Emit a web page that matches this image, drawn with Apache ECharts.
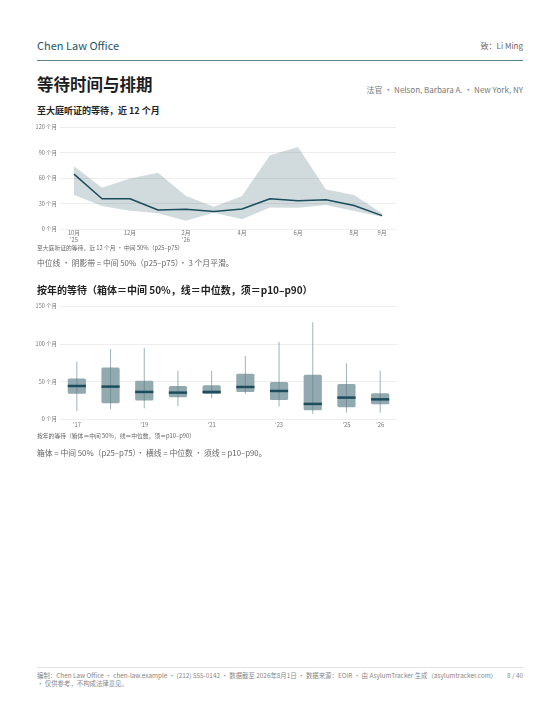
<!DOCTYPE html>
<html>
<head>
<meta charset="utf-8">
<script src="https://cdn.jsdelivr.net/npm/echarts@6/dist/echarts.min.js"></script>
<style>
  html, body { margin: 0; padding: 0; background: #fff; }
  body { width: 560px; height: 725px; position: relative; overflow: hidden;
    font-family: "Noto Sans CJK SC", "Noto Sans", sans-serif; color: #222; }
  .abs { position: absolute; white-space: nowrap; line-height: 1; }
  .chart { position: absolute; left: 0; width: 560px; }
</style>
</head>
<body>
<div class="abs" style="left:37px; top:40px; font-size:11px; color:#1f5566;">Chen Law Office</div>
<div class="abs" style="right:37px; top:41.5px; font-size:8px; color:#666;">致：Li Ming</div>
<div style="position:absolute; left:37px; width:486px; top:60px; height:1px; background:#5d8290;"></div>

<div class="abs" style="left:37px; top:75.8px; font-size:16.5px; font-weight:bold; color:#1e1e1e;">等待时间与排期</div>
<div class="abs" style="right:37px; top:85.5px; font-size:8px; color:#777;">法官 · Nelson, Barbara A. · New York, NY</div>
<div class="abs" style="left:37px; top:105.5px; font-size:9px; font-weight:bold;">至大庭听证的等待，近 12 个月</div>

<div id="trend" class="chart" style="top:115px; height:135px;"></div>
<div class="abs" style="left:37px; top:244.5px; font-size:5.8px; color:#666;">至大庭听证的等待，近 12 个月 · 中间 50%（p25–p75）</div>
<div class="abs" style="left:37px; top:258.5px; font-size:7.8px; color:#666;">中位线 · 阴影带 = 中间 50%（p25–p75）· 3 个月平滑。</div>

<div class="abs" style="left:37px; top:285px; font-size:10px; font-weight:bold;">按年的等待（箱体＝中间 50%，线＝中位数，须＝p10–p90）</div>
<div id="yearly" class="chart" style="top:295px; height:140px;"></div>
<div class="abs" style="left:37px; top:433px; font-size:5.8px; color:#666;">按年的等待（箱体＝中间 50%，线＝中位数，须＝p10–p90）</div>
<div class="abs" style="left:37px; top:449px; font-size:7.8px; color:#666;">箱体 = 中间 50%（p25–p75）· 横线 = 中位数 · 须线 = p10–p90。</div>

<div style="position:absolute; left:37px; width:486px; top:667px; height:1px; background:#e4e4e4;"></div>
<div class="abs" style="left:37px; top:671.5px; font-size:6.4px; color:#888; line-height:8.6px;">编制：Chen Law Office · chen-law.example · (212) 555-0142 · 数据截至 2026年8月1日 · 数据来源：EOIR · 由 AsylumTracker 生成（asylumtracker.com）<br>· 仅供参考，不构成法律意见。</div>
<div class="abs" style="right:37px; top:672.5px; font-size:6.4px; color:#888;">8 / 40</div>

<script>
// Last 12 months, wait to merits hearing (months)
const months = ["10月\n'25", "11月", "12月", "1月", "2月\n'26", "3月", "4月", "5月", "6月", "7月", "8月", "9月"];
const monthMedian = [64.7, 35.8, 35.8, 22.6, 23.4, 21, 23.8, 35.8, 33.5, 34.7, 28, 16];
const monthP25 = [40.1, 27.3, 21.8, 18.7, 10.1, 19.5, 11.7, 25.7, 25.3, 28.4, 21.4, 14.8];
const monthP75 = [74, 48.7, 59.6, 66.2, 39, 26.5, 39, 86.9, 96.6, 46.7, 40.1, 18.7];

// Yearly distribution (months)
const years = ["'17", "'18", "'19", "'20", "'21", "'22", "'23", "'24", "'25", "'26"];
const yearP10 = [11, 13.3, 14.6, 17.7, 27.9, 33.6, 16.8, 7.1, 8.8, 8.8];
const yearP25 = [34, 21.2, 24.8, 29.2, 33.6, 36.3, 25.7, 12, 15.9, 19.9];
const yearMedian = [44.2, 43.4, 36.3, 35.4, 36.3, 42.9, 37.6, 20.4, 28.8, 26.5];
const yearP75 = [54, 68.6, 51.3, 44.2, 45.1, 60.6, 49.6, 59.3, 46.9, 34.5];
const yearP90 = [76.5, 93.4, 94.7, 64.2, 64.6, 84, 102.7, 128.8, 74.3, 64.6];

const FONT = "Noto Sans CJK SC";
const DARK = "#1b4d5c";

// show every other label plus the last one
const everyOtherPlusLast = (count) => (index) => index % 2 === 0 || index === count - 1;

function valueAxis(max, interval) {
  return {
    type: "value",
    min: 0,
    max: max,
    interval: interval,
    axisLine: { show: false },
    axisTick: { show: false },
    axisLabel: { fontFamily: FONT, fontSize: 5.5, color: "#777", margin: 3, formatter: "{value} 个月" },
    splitLine: { lineStyle: { color: "#eeeeee", width: 1 } },
  };
}

function categoryAxis(data, margin) {
  return {
    type: "category",
    data: data,
    boundaryGap: true,
    axisLine: { show: false },
    axisTick: { show: false },
    axisLabel: {
      fontFamily: FONT,
      fontSize: 5.8,
      color: "#777",
      margin: margin,
      lineHeight: 6.5,
      interval: everyOtherPlusLast(data.length),
    },
  };
}

// Trend chart
const trend = echarts.init(document.getElementById("trend"), null, { renderer: "canvas" });
trend.setOption({
  animation: false,
  grid: { left: 60, right: 164, top: 12, bottom: 20.7 },
  xAxis: categoryAxis(months, 0.5),
  yAxis: valueAxis(120, 30),
  series: [
    {
      type: "line",
      stack: "band",
      data: monthP25,
      symbol: "none",
      lineStyle: { opacity: 0 },
      silent: true,
    },
    {
      type: "line",
      stack: "band",
      data: monthP75.map((v, i) => +(v - monthP25[i]).toFixed(2)),
      symbol: "none",
      lineStyle: { opacity: 0 },
      areaStyle: { color: DARK, opacity: 0.2 },
      silent: true,
    },
    {
      type: "line",
      data: monthMedian,
      symbol: "none",
      lineStyle: { color: DARK, width: 1.5 },
      z: 5,
    },
  ],
});

// Yearly box chart
const yearly = echarts.init(document.getElementById("yearly"), null, { renderer: "canvas" });
const boxData = years.map((_, i) => [i, yearP10[i], yearP25[i], yearMedian[i], yearP75[i], yearP90[i]]);

function renderBox(params, api) {
  const idx = api.value(0);
  const low = api.coord([idx, api.value(1)]);
  const q1 = api.coord([idx, api.value(2)]);
  const med = api.coord([idx, api.value(3)]);
  const q3 = api.coord([idx, api.value(4)]);
  const high = api.coord([idx, api.value(5)]);
  const w = api.size([1, 0])[0] * 0.54;
  const x = low[0];
  return {
    type: "group",
    children: [
      {
        type: "rect",
        shape: { x: x - w / 2, y: q3[1], width: w, height: q1[1] - q3[1], r: 1.5 },
        style: { fill: "#93a9b0" },
      },
      {
        type: "line",
        shape: { x1: x, y1: high[1], x2: x, y2: low[1] },
        style: { stroke: "#5f7f89", lineWidth: 1, opacity: 0.6 },
      },
      {
        type: "line",
        shape: { x1: x - w / 2, y1: med[1], x2: x + w / 2, y2: med[1] },
        style: { stroke: DARK, lineWidth: 2.5 },
      },
    ],
  };
}

yearly.setOption({
  animation: false,
  grid: { left: 60, right: 163, top: 11.3, bottom: 15.7 },
  xAxis: categoryAxis(years, 2),
  yAxis: valueAxis(150, 50),
  series: [
    {
      type: "custom",
      renderItem: renderBox,
      encode: { x: 0, y: [1, 2, 3, 4, 5] },
      data: boxData,
    },
  ],
});
</script>
</body>
</html>
